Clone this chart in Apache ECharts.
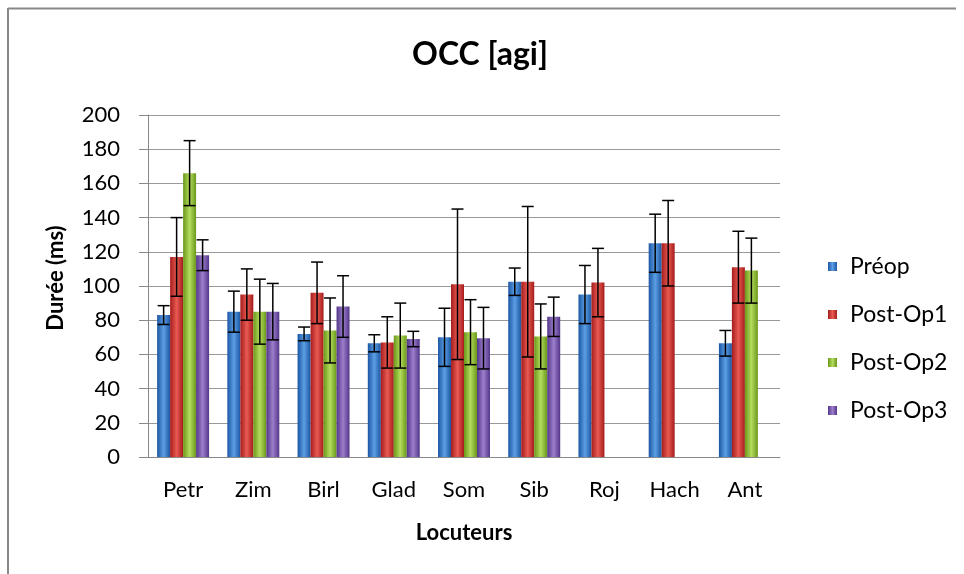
<!DOCTYPE html>
<html>
<head>
<meta charset="utf-8">
<script src="https://cdn.jsdelivr.net/npm/echarts@6/dist/echarts.min.js"></script>
<style>
html,body{margin:0;padding:0;background:#fff;}
#main{width:964px;height:574px;}
</style>
</head>
<body>
<div id="main"></div>
<script>
var categories = ['Petr', 'Zim', 'Birl', 'Glad', 'Som', 'Sib', 'Roj', 'Hach', 'Ant'];
var seriesNames = ['Préop', 'Post-Op1', 'Post-Op2', 'Post-Op3'];
var preop    = [83, 85, 72, 66.5, 70, 102.5, 95, 125, 66.5];
var postOp1  = [117, 95, 96, 67, 101, 102.5, 102, 125, 111];
var postOp2  = [166, 85, 74, 71, 73, 70.5, null, null, 109];
var postOp3  = [118, 85, 88, 69, 69.5, 82, null, null, null];
var preopErr   = [5.5, 12, 4, 5, 17, 8, 17, 17, 7.5];
var postOp1Err = [23, 15, 18, 15, 44, 44, 20, 25, 21];
var postOp2Err = [19, 19, 19, 19, 19, 19, null, null, 19];
var postOp3Err = [9, 16.5, 18, 4.5, 18, 11.5, null, null, null];
var yTicks = [0, 20, 40, 60, 80, 100, 120, 140, 160, 180, 200];

var values = [preop, postOp1, postOp2, postOp3];
var errors = [preopErr, postOp1Err, postOp2Err, postOp3Err];
var palette = [
  ['#1b56a3', '#5c9ee3'],
  ['#a51c1c', '#e85a52'],
  ['#6a981a', '#b4dc5e'],
  ['#53358a', '#9c7ecb']
];
function grad(c) {
  return new echarts.graphic.LinearGradient(0, 0, 1, 0, [
    {offset: 0, color: c[0]}, {offset: 0.5, color: c[1]}, {offset: 1, color: c[0]}
  ]);
}
var CAT_GAP = 0.26;
var series = [];
values.forEach(function (v, i) {
  series.push({
    name: seriesNames[i], type: 'bar', data: v,
    barGap: '0%', barCategoryGap: (CAT_GAP * 100) + '%',
    itemStyle: {color: grad(palette[i])},
    z: 2
  });
});
values.forEach(function (v, i) {
  var d = [];
  v.forEach(function (val, k) {
    if (val != null && errors[i][k] != null) d.push([k, val - errors[i][k], val + errors[i][k]]);
  });
  series.push({
    type: 'custom', name: 'err' + i, z: 5,
    data: d,
    renderItem: function (params, api) {
      var k = api.value(0);
      var lo = api.coord([k, api.value(1)]);
      var hi = api.coord([k, api.value(2)]);
      var band = api.size([1, 0])[0];
      var bw = band * (1 - CAT_GAP) / 4;
      var x = lo[0] + (i - 1.5) * bw;
      var cap = 6;
      var st = {stroke: '#000', lineWidth: 1.5};
      return {type: 'group', children: [
        {type: 'line', shape: {x1: x, y1: lo[1], x2: x, y2: hi[1]}, style: st},
        {type: 'line', shape: {x1: x - cap, y1: lo[1], x2: x + cap, y2: lo[1]}, style: st},
        {type: 'line', shape: {x1: x - cap, y1: hi[1], x2: x + cap, y2: hi[1]}, style: st}
      ]};
    }
  });
});

var chart = echarts.init(document.getElementById('main'), null, {renderer: 'canvas'});
var FONT = 'Lato, "Open Sans", sans-serif';
chart.setOption({
  animation: false,
  textStyle: {fontFamily: FONT},
  title: {
    text: 'OCC [agi]', left: 475, top: 34, textAlign: 'center',
    textStyle: {fontSize: 32, fontWeight: 'bold', color: '#000', fontFamily: FONT}
  },
  legend: {
    data: seriesNames, orient: 'vertical', left: 823, top: 250,
    itemWidth: 9, itemHeight: 9, itemGap: 25, icon: 'rect',
    textStyle: {fontSize: 23, color: '#000', lineHeight: 23, fontFamily: FONT, padding: [0, 0, 0, 8]}
  },
  grid: {left: 148, right: 184, top: 115, bottom: 117},
  xAxis: {
    type: 'category', data: categories,
    name: 'Locuteurs', nameLocation: 'middle', nameGap: 65,
    nameTextStyle: {fontSize: 22, fontWeight: 'bold', color: '#000', fontFamily: FONT},
    axisLine: {lineStyle: {color: '#888', width: 1}},
    axisTick: {show: false},
    axisLabel: {fontSize: 22, color: '#000', margin: 22, fontFamily: FONT}
  },
  yAxis: {
    type: 'value', min: yTicks[0], max: yTicks[yTicks.length - 1], interval: 20,
    name: 'Durée (ms)', nameLocation: 'middle', nameGap: 81, nameRotate: 90,
    nameTextStyle: {fontSize: 22, fontWeight: 'bold', color: '#000', fontFamily: FONT, padding: [0, 0, 0, 16]},
    axisLine: {show: true, lineStyle: {color: '#888', width: 1}},
    axisTick: {show: true, length: 9, lineStyle: {color: '#888'}},
    axisLabel: {fontSize: 22, color: '#000', margin: 28, fontFamily: FONT},
    splitLine: {lineStyle: {color: '#999', width: 1}}
  },
  graphic: [
    {type: 'line', shape: {x1: 8, y1: 8.5, x2: 956, y2: 8.5}, style: {stroke: '#888', lineWidth: 2}},
    {type: 'line', shape: {x1: 8, y1: 8, x2: 8, y2: 574}, style: {stroke: '#888', lineWidth: 2}}
  ],
  series: series
});
</script>
</body>
</html>
